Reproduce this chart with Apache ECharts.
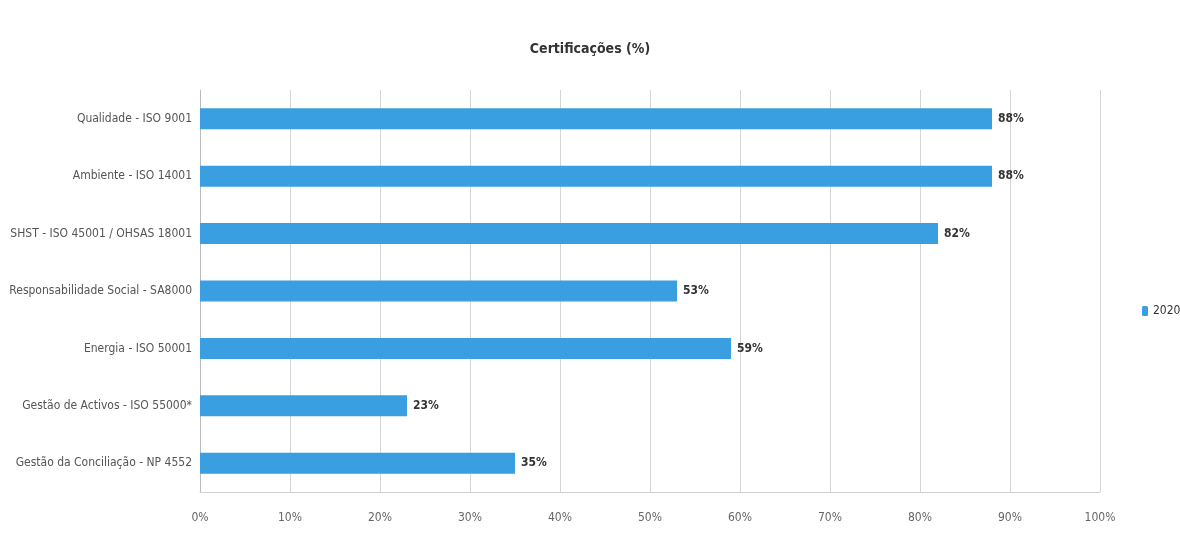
<!DOCTYPE html>
<html>
<head>
<meta charset="utf-8">
<script src="https://cdn.jsdelivr.net/npm/echarts@6/dist/echarts.min.js"></script>
<style>
  html, body { margin: 0; padding: 0; background: #fff; }
  #chart { width: 1180px; height: 539px; }
</style>
</head>
<body>
<div id="chart"></div>
<script>
// categories listed top to bottom as in the picture
const categories = [
  'Qualidade - ISO 9001',
  'Ambiente - ISO 14001',
  'SHST - ISO 45001 / OHSAS 18001',
  'Responsabilidade Social - SA8000',
  'Energia - ISO 50001',
  'Gestão de Activos - ISO 55000*',
  'Gestão da Conciliação - NP 4552'
];
const values2020 = [88, 88, 82, 53, 59, 23, 35];
const seriesName = '2020';

const font = '"DejaVu Sans Condensed", "Liberation Sans Narrow", "Open Sans", sans-serif';

let chartDom = document.getElementById('chart');
let myChart = echarts.init(chartDom);

let option = {
  animation: false,
  title: {
    text: 'Certificações (%)',
    left: 'center',
    top: 37,
    textStyle: { fontFamily: font, fontSize: 14, fontWeight: 'bold', color: '#333' }
  },
  legend: {
    data: [seriesName],
    orient: 'vertical',
    left: 1137,
    top: 300,
    itemWidth: 6,
    itemHeight: 10,
    itemGap: 4,
    textStyle: { fontFamily: font, fontSize: 12, color: '#333' }
  },
  grid: {
    left: 200,
    right: 80,
    top: 90,
    bottom: 47,
    outerBoundsMode: 'none',
    containLabel: false
  },
  xAxis: {
    type: 'value',
    min: 0,
    max: 100,
    interval: 10,
    axisLine: { show: true, lineStyle: { color: '#d0d0d0' } },
    axisTick: { show: false },
    splitLine: { show: true, lineStyle: { color: '#d6d6d6' } },
    axisLabel: {
      formatter: '{value}%',
      margin: 20,
      fontFamily: font,
      fontSize: 12,
      color: '#666'
    }
  },
  yAxis: {
    type: 'category',
    data: categories,
    inverse: true,
    axisLine: { show: true, lineStyle: { color: '#bbb' } },
    axisTick: { show: false },
    axisLabel: {
      margin: 8,
      fontFamily: font,
      fontSize: 12,
      color: '#555'
    }
  },
  series: [{
    name: seriesName,
    type: 'bar',
    data: values2020,
    barWidth: 21,
    itemStyle: { color: '#3a9fe0' },
    label: {
      show: true,
      position: 'right',
      distance: 6,
      formatter: '{c}%',
      fontFamily: font,
      fontSize: 12,
      fontWeight: 'bold',
      color: '#333'
    }
  }]
};

myChart.setOption(option);
</script>
</body>
</html>
